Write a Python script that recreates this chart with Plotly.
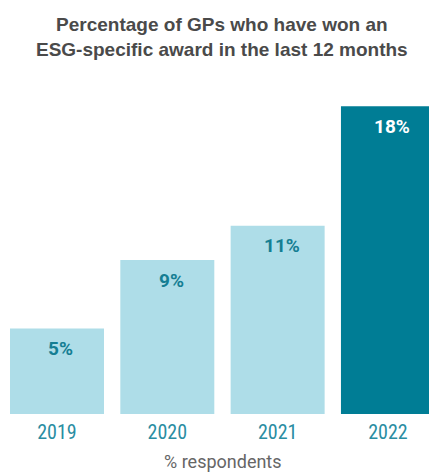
import plotly.graph_objects as go

# Survey results: share of GPs reporting an ESG-specific award
years = ["2019", "2020", "2021", "2022"]
values = [5, 9, 11, 18]
value_labels = ["5%", "9%", "11%", "18%"]

LIGHT = "#aedde8"
DARK = "#007d95"
LABEL_TEAL = "#157e93"
TICK_TEAL = "#2a8da2"

bar_colors = [LIGHT, LIGHT, LIGHT, DARK]
label_colors = [LABEL_TEAL, LABEL_TEAL, LABEL_TEAL, "#ffffff"]

fig = go.Figure(
    go.Bar(
        x=list(range(len(years))),
        y=values,
        width=0.852,
        marker=dict(color=bar_colors, line=dict(width=0)),
        hoverinfo="skip",
    )
)

# Value labels sitting just inside the top of each bar
for i, (v, txt, col) in enumerate(zip(values, value_labels, label_colors)):
    fig.add_annotation(
        x=i, y=v, text=f"<b>{txt}</b>", showarrow=False,
        yshift=-20, xshift=4, yanchor="middle",
        font=dict(family="Roboto, Arial, sans-serif", size=19, color=col),
    )

# Chart heading, two lines above the plot area
fig.add_annotation(
    x=0.5175, xref="paper", y=1, yref="paper", yshift=88, yanchor="top",
    text="<b>Percentage of GPs who have won an<br>ESG-specific award in the last 12 months</b>",
    showarrow=False, align="center",
    font=dict(family="Liberation Sans, Arial, sans-serif", size=19, color="#4a4a4a"),
)

# Axis caption below the year labels
fig.add_annotation(
    x=0.52, xref="paper", y=0, yref="paper", yshift=-47, yanchor="middle",
    text="% respondents", showarrow=False, borderpad=0,
    font=dict(family="Roboto, Arial, sans-serif", size=18, color="#666666"),
)

fig.update_layout(
    width=429, height=473,
    margin=dict(l=0, r=0, t=100, b=59),
    paper_bgcolor="white", plot_bgcolor="white",
    showlegend=False,
    xaxis=dict(
        range=[-0.5166, 3.372],
        tickmode="array", tickvals=list(range(len(years))), ticktext=years,
        tickfont=dict(family="Liberation Sans Narrow, Roboto Condensed, Roboto, sans-serif",
                      size=20, color=TICK_TEAL),
        ticklabelstandoff=4,
        showgrid=False, zeroline=False, showline=False, ticks="",
        fixedrange=True,
    ),
    yaxis=dict(
        range=[0, 18.36], visible=False, fixedrange=True,
    ),
)

fig.write_html("out.html")
